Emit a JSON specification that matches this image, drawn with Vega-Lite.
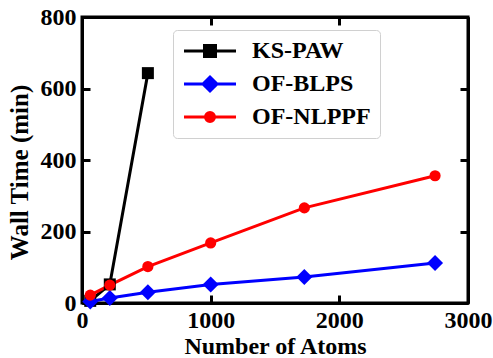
{
  "$schema": "https://vega.github.io/schema/vega-lite/v6.json",
  "width": 386,
  "height": 286,
  "autosize": {"type": "none"},
  "padding": {"left": 82, "top": 17, "right": 25, "bottom": 55},
  "config": {
    "font": "Liberation Serif",
    "view": {"stroke": "black", "strokeWidth": 3},
    "axis": {
      "grid": false,
      "domainColor": "black",
      "domainWidth": 3,
      "tickColor": "black",
      "tickWidth": 3,
      "tickSize": -8,
      "labelFont": "Liberation Serif",
      "labelFontSize": 24,
      "labelFontWeight": "bold",
      "labelColor": "black",
      "labelOverlap": false,
      "labelFlush": false,
      "format": "d",
      "titleFont": "Liberation Serif",
      "titleFontSize": 24,
      "titleFontWeight": "bold",
      "titleColor": "black"
    }
  },
  "data": {
    "values": [
      {"series": "KS-PAW", "atoms": 64, "time": 6},
      {"series": "KS-PAW", "atoms": 216, "time": 52},
      {"series": "KS-PAW", "atoms": 512, "time": 643},
      {"series": "OF-BLPS", "atoms": 64, "time": 4},
      {"series": "OF-BLPS", "atoms": 216, "time": 14},
      {"series": "OF-BLPS", "atoms": 512, "time": 30},
      {"series": "OF-BLPS", "atoms": 1000, "time": 52},
      {"series": "OF-BLPS", "atoms": 1728, "time": 73},
      {"series": "OF-BLPS", "atoms": 2744, "time": 112},
      {"series": "OF-NLPPF", "atoms": 64, "time": 22},
      {"series": "OF-NLPPF", "atoms": 216, "time": 50},
      {"series": "OF-NLPPF", "atoms": 512, "time": 102},
      {"series": "OF-NLPPF", "atoms": 1000, "time": 168},
      {"series": "OF-NLPPF", "atoms": 1728, "time": 266},
      {"series": "OF-NLPPF", "atoms": 2744, "time": 356}
    ]
  },
  "resolve": {"axis": {"x": "independent", "y": "independent"}},
  "layer": [
    {
      "mark": {"type": "line", "strokeWidth": 3},
      "encoding": {
        "x": {
          "field": "atoms", "type": "quantitative",
          "scale": {"domain": [0, 3000], "nice": false},
          "axis": {"orient": "bottom", "title": "Number of Atoms", "values": [0, 1000, 2000, 3000], "labelPadding": 13, "titlePadding": 2}
        },
        "y": {
          "field": "time", "type": "quantitative",
          "scale": {"domain": [0, 800], "nice": false},
          "axis": {"orient": "left", "title": "Wall Time (min)", "values": [0, 200, 400, 600, 800], "labelPadding": 14, "titlePadding": 8, "titleFontSize": 25, "titleY": 155}
        },
        "color": {
          "field": "series", "type": "nominal",
          "scale": {"domain": ["KS-PAW", "OF-BLPS", "OF-NLPPF"], "range": ["#000000", "#0000ff", "#ff0000"]},
          "legend": {
            "orient": "none",
            "legendX": 91,
            "legendY": 13,
            "title": null,
            "labelFont": "Liberation Serif",
            "labelFontSize": 24,
            "labelFontWeight": "bold",
            "labelColor": "black",
            "fillColor": "white",
            "strokeColor": "#d0d0d0",
            "cornerRadius": 4,
            "padding": 9,
            "rowPadding": 8,
            "symbolSize": 400,
            "symbolOffset": 16,
            "labelOffset": 30,
            "encode": {
              "symbols": {
                "update": {
                  "shape": {"signal": "datum.value === 'KS-PAW' ? 'M-2.6,0H2.6M-0.55,-0.55H0.55V0.55H-0.55Z' : (datum.value === 'OF-BLPS' ? 'M-2.6,0H2.6M-0.7,0L0,-0.7L0.7,0L0,0.7Z' : 'M-2.6,0H2.6M-0.45,0A0.45,0.45 0 1,0 0.45,0A0.45,0.45 0 1,0 -0.45,0Z')"},
                  "fill": {"scale": "color", "field": "value"},
                  "stroke": {"scale": "color", "field": "value"},
                  "strokeWidth": {"value": 3},
                  "opacity": {"value": 1}
                }
              }
            }
          }
        },
        "order": {"field": "atoms", "type": "quantitative"}
      }
    },
    {
      "transform": [{"filter": "datum.series === 'KS-PAW'"}],
      "mark": {"type": "point", "filled": true, "opacity": 1, "shape": "square", "size": 144, "color": "#000000"},
      "encoding": {
        "x": {
          "field": "atoms", "type": "quantitative",
          "axis": {"orient": "top", "labels": false, "title": null, "values": [0, 1000, 2000, 3000]}
        },
        "y": {
          "field": "time", "type": "quantitative",
          "axis": {"orient": "right", "labels": false, "title": null, "values": [0, 200, 400, 600, 800]}
        }
      }
    },
    {
      "transform": [{"filter": "datum.series === 'OF-BLPS'"}],
      "mark": {"type": "point", "filled": true, "opacity": 1, "shape": "diamond", "size": 256, "color": "#0000ff"},
      "encoding": {
        "x": {"field": "atoms", "type": "quantitative", "axis": null},
        "y": {"field": "time", "type": "quantitative", "axis": null}
      }
    },
    {
      "transform": [{"filter": "datum.series === 'OF-NLPPF'"}],
      "mark": {"type": "point", "filled": true, "opacity": 1, "shape": "circle", "size": 125, "color": "#ff0000"},
      "encoding": {
        "x": {"field": "atoms", "type": "quantitative", "axis": null},
        "y": {"field": "time", "type": "quantitative", "axis": null}
      }
    }
  ]
}
